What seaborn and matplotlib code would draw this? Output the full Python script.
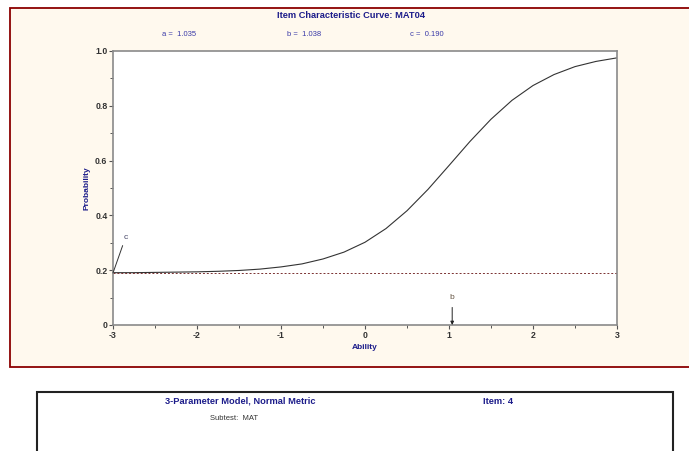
import matplotlib
matplotlib.use("Agg")
import matplotlib.pyplot as plt
import seaborn as sns
from matplotlib.patches import Rectangle
from matplotlib.ticker import MultipleLocator

# Parametreler
item_name = "MAT04"
param_a = 1.035
param_b = 1.038
param_c = 0.190

# Egri noktalari
ability = [-3.0, -2.75, -2.5, -2.25, -2.0, -1.75, -1.5, -1.25, -1.0, -0.75,
           -0.5, -0.25, 0.0, 0.25, 0.5, 0.75, 1.0, 1.25, 1.5, 1.75,
           2.0, 2.25, 2.5, 2.75, 3.0]
probability = [0.191, 0.191, 0.192, 0.193, 0.194, 0.196, 0.199, 0.204, 0.212, 0.223,
               0.241, 0.266, 0.302, 0.352, 0.417, 0.495, 0.582, 0.670, 0.751, 0.820,
               0.874, 0.914, 0.943, 0.962, 0.975]

x_ticks = [-3, -2, -1, 0, 1, 2, 3]
y_ticks = [0, 0.2, 0.4, 0.6, 0.8, 1.0]
y_tick_labels = ["0", "0.2", "0.4", "0.6", "0.8", "1.0"]

W, H = 689, 451
NAVY = "#1c1c8a"
BLUE = "#3a3aa8"

sns.set_theme(style="white")
plt.rcParams["font.family"] = ["Liberation Sans", "DejaVu Sans"]

fig = plt.figure(figsize=(W / 100, H / 100), dpi=100)
fig.patch.set_facecolor("white")

# Ust panel (krem zemin, koyu kirmizi cerceve)
fig.patches.append(Rectangle((10 / W, 1 - 367 / H), 700 / W, 359 / H,
                             transform=fig.transFigure, facecolor="#fff9ee",
                             edgecolor="#8b0000", linewidth=1.3, zorder=-2))
# Alt panel
fig.patches.append(Rectangle((37 / W, -0.05), 636 / W, 1 - 392 / H + 0.05,
                             transform=fig.transFigure, facecolor="white",
                             edgecolor="#222222", linewidth=1.5, zorder=-2))

ax = fig.add_axes([113 / W, 1 - 325 / H, 504 / W, 274 / H])
ax.set_facecolor("white")

sns.lineplot(x=ability, y=probability, ax=ax, color="#333333", linewidth=0.8)
ax.axhline(param_c, color="#7a3030", linestyle=(0, (2, 2)), linewidth=0.7)

ax.set_xlim(-3, 3)
ax.set_ylim(0, 1)
ax.set_xticks(x_ticks)
ax.set_xticklabels([str(t) for t in x_ticks])
ax.set_yticks(y_ticks)
ax.set_yticklabels(y_tick_labels)
ax.xaxis.set_minor_locator(MultipleLocator(0.5))
ax.yaxis.set_minor_locator(MultipleLocator(0.1))
ax.tick_params(axis="both", which="major", direction="out", length=3, width=0.8,
               color="#555555", labelsize=6.3, labelcolor="#333333", pad=1,
               bottom=True, left=True)
ax.tick_params(axis="both", which="minor", direction="out", length=2, width=0.7,
               color="#555555", bottom=True, left=True)
for lbl in ax.get_xticklabels() + ax.get_yticklabels():
    lbl.set_fontweight("bold")

for s in ax.spines.values():
    s.set_color("#8a8a8a")
    s.set_linewidth(1.2)

ax.set_xlabel("Ability", fontsize=6, fontweight="bold", color=NAVY, labelpad=3)
ax.set_ylabel("Probability", fontsize=6, fontweight="bold", color=NAVY, labelpad=3)

# c ve b isaretleri
ax.annotate("c", xy=(-3, param_c), xytext=(9, 23), textcoords="offset points",
            fontsize=6, color="#444466", ha="center", va="bottom",
            arrowprops=dict(arrowstyle="-", color="#333333", lw=0.7,
                            shrinkA=1, shrinkB=0))
ax.annotate("b", xy=(param_b, 0), xytext=(0, 17), textcoords="offset points",
            fontsize=6, color="#665544", ha="center", va="bottom",
            arrowprops=dict(arrowstyle="-|>", color="#222222", lw=0.7,
                            mutation_scale=5, shrinkA=2, shrinkB=0))

# Basliklar
fig.text(351 / W, 1 - 15 / H, f"Item Characteristic Curve: {item_name}",
         fontsize=6.7, fontweight="bold", color=NAVY, ha="center", va="center")
fig.text(179 / W, 1 - 34 / H, f"a =  {param_a:.3f}", fontsize=5.5, color=BLUE,
         ha="center", va="center")
fig.text(304 / W, 1 - 34 / H, f"b =  {param_b:.3f}", fontsize=5.5, color=BLUE,
         ha="center", va="center")
fig.text(427 / W, 1 - 34 / H, f"c =  {param_c:.3f}", fontsize=5.5, color=BLUE,
         ha="center", va="center")

fig.text(240 / W, 1 - 401 / H, "3-Parameter Model, Normal Metric", fontsize=6.7,
         fontweight="bold", color=NAVY, ha="center", va="center")
fig.text(498 / W, 1 - 401 / H, "Item: 4", fontsize=6.7, fontweight="bold",
         color=NAVY, ha="center", va="center")
fig.text(234 / W, 1 - 418 / H, "Subtest:  MAT", fontsize=5.5, color="#333333",
         ha="center", va="center")

fig.savefig("out.png", dpi=100)
